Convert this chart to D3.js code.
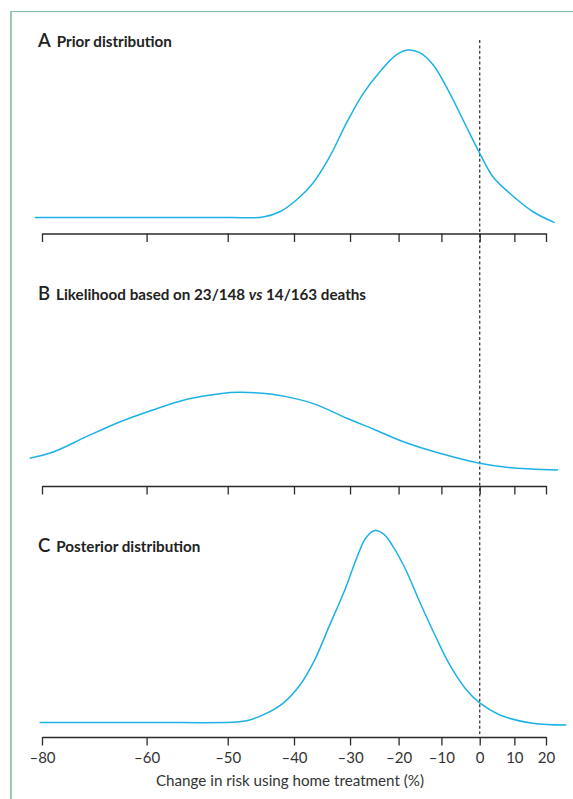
<!DOCTYPE html>
<html>
<head>
<meta charset="utf-8">
<script src="https://cdn.jsdelivr.net/npm/d3@7"></script>
<style>
  html, body { margin: 0; padding: 0; background: #fff; }
  svg { display: block; }
</style>
</head>
<body>
<svg id="chart" width="573" height="799"></svg>
<script>
// ---------- DATA (change in risk, %; relative density) ----------
const priorX = [-70.6, -59.6, -49.7, -44.9, -42.3, -39.6, -36.8, -33.8, -30.7, -27.4, -24.0, -20.5, -18.0, -15.2, -12.0, -7.9, -3.6, 0, 3.7, 8.6, 15.8, 22.9];
const priorY = [0.048, 0.048, 0.048, 0.051, 0.081, 0.148, 0.243, 0.394, 0.584, 0.754, 0.877, 0.972, 1.0, 0.985, 0.915, 0.754, 0.564, 0.413, 0.280, 0.186, 0.081, 0.019];

const likeX = [-71.0, -69.0, -66.1, -62.8, -59.3, -55.3, -51.1, -48.3, -43.8, -39.4, -36.2, -30.7, -25.4, -18.3, -10.4, 0, 7.6, 24.0];
const likeY = [0.211, 0.289, 0.468, 0.646, 0.786, 0.913, 0.980, 0.996, 0.975, 0.915, 0.850, 0.690, 0.560, 0.395, 0.270, 0.151, 0.104, 0.071];

const postX = [-70.2, -59.6, -49.0, -46.9, -44.4, -41.8, -39.0, -36.5, -33.8, -31.0, -28.7, -26.9, -25.1, -23.2, -21.3, -18.6, -15.2, -11.6, -7.9, -4.0, 0, 5.7, 15.7, 26.9];
const postY = [0.028, 0.028, 0.030, 0.041, 0.074, 0.125, 0.218, 0.344, 0.522, 0.699, 0.861, 0.962, 1.0, 0.982, 0.922, 0.810, 0.638, 0.471, 0.319, 0.203, 0.127, 0.066, 0.024, 0.015];

const panelLetters = ["A", "B", "C"];
const panelTitles = ["Prior distribution", "Likelihood based on 23/148 vs 14/163 deaths", "Posterior distribution"];

// tick positions (change in risk, %) and the labels printed at them
const tickPositions = [-70, -60, -50, -40, -30, -20, -10, 0, 10, 20];
const tickLabels = ["\u201380", "\u201360", "\u201350", "\u201340", "\u201330", "\u201320", "\u201310", "0", "10", "20"];
const xAxisTitle = "Change in risk using home treatment (%)";

// ---------- DRAWING ----------
const svg = d3.select("#chart");
const FONT = "Lato, 'Open Sans', sans-serif";
const curveColor = "#1cb1e7";
const inkColor = "#2b2b2b";

// green frame
svg.append("line").attr("x1", 11).attr("x2", 11).attr("y1", 11).attr("y2", 799)
  .attr("stroke", "#86bb9c").attr("stroke-width", 1.6);
svg.append("line").attr("x1", 11).attr("x2", 573).attr("y1", 11.5).attr("y2", 11.5)
  .attr("stroke", "#86bb9c").attr("stroke-width", 1.2);

// x scale: log of risk ratio (1 + change/100)
const xr = d3.scaleLog().domain([0.3, 1.2]).range([42, 546]);
const x = c => xr(1 + c / 100);

const panels = [
  { xs: priorX, ys: priorY, yRange: [226, 50], axisY: 233.5, titleY: 47 },
  { xs: likeX, ys: likeY, yRange: [476, 392], axisY: 486, titleY: 300 },
  { xs: postX, ys: postY, yRange: [728, 530.5], axisY: 737, titleY: 552 }
];

// dashed reference line at 0
svg.append("line")
  .attr("x1", x(0)).attr("x2", x(0)).attr("y1", 40).attr("y2", 734)
  .attr("stroke", "#3a3a3a").attr("stroke-width", 1.3)
  .attr("stroke-dasharray", "3,2.4");

panels.forEach((p, i) => {
  const y = d3.scaleLinear().domain([0, 1]).range(p.yRange);
  const pts = p.xs.map((v, k) => [v, p.ys[k]]);
  const line = d3.line().x(d => x(d[0])).y(d => y(d[1])).curve(d3.curveCatmullRom.alpha(0.5));
  svg.append("path").datum(pts).attr("d", line)
    .attr("fill", "none").attr("stroke", curveColor).attr("stroke-width", 1.5);

  const axis = d3.axisBottom(xr)
    .tickValues(tickPositions.map(t => 1 + t / 100))
    .tickSizeInner(8.5).tickSizeOuter(0)
    .tickPadding(7)
    .tickFormat((d, k) => i === 2 ? tickLabels[k] : "");
  const g = svg.append("g").attr("transform", `translate(0,${p.axisY})`).call(axis);
  g.select(".domain").attr("stroke", inkColor).attr("stroke-width", 1.3);
  g.selectAll(".tick line").attr("stroke", inkColor).attr("stroke-width", 1.3);
  g.selectAll(".tick text").attr("fill", "#333").attr("font-family", FONT)
    .attr("font-size", 15);

  const t = svg.append("text").attr("x", 38).attr("y", p.titleY)
    .attr("font-family", FONT).attr("fill", "#222");
  t.append("tspan").attr("font-size", 18.5).attr("font-weight", 600).text(panelLetters[i]);
  const parts = panelTitles[i].split(" vs ");
  const fs = 15.2;
  const sub = t.append("tspan").attr("dx", 6).attr("font-size", fs).attr("font-weight", 700);
  if (parts.length === 2) {
    sub.text(parts[0] + " ");
    t.append("tspan").attr("font-size", fs).attr("font-weight", 700).attr("font-style", "italic").text("vs");
    t.append("tspan").attr("font-size", fs).attr("font-weight", 700).text(" " + parts[1]);
  } else {
    sub.text(panelTitles[i]);
  }
});

svg.append("text").attr("x", 290).attr("y", 786).attr("text-anchor", "middle")
  .attr("font-family", FONT).attr("font-size", 15.2).attr("fill", "#333")
  .text(xAxisTitle);
</script>
</body>
</html>
